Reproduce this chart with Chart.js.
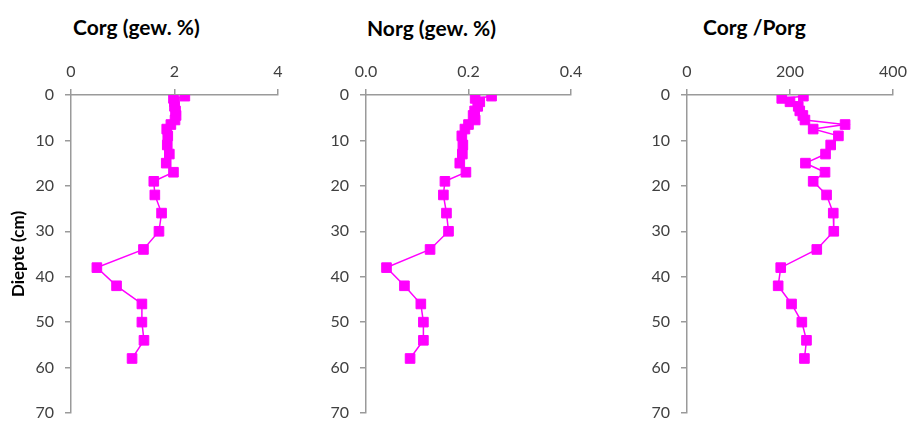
<!DOCTYPE html>
<html><head><meta charset="utf-8">
<script src="https://cdn.jsdelivr.net/npm/chart.js@4.4.1/dist/chart.umd.min.js"></script>
<style>
body{margin:0;background:#fff;width:911px;height:421px;overflow:hidden;position:relative;font-family:Lato,sans-serif}
.box{position:absolute;top:0;height:421px}
.t{position:absolute;font-weight:bold;font-size:21px;color:#000;white-space:nowrap;font-family:Lato,sans-serif;line-height:24px}
</style></head><body>
<div class="t" style="left:73px;top:15px">Corg (gew. %)</div>
<div class="t" style="left:367px;top:16px">Norg (gew. %)</div>
<div class="t" style="left:703px;top:15px">Corg /Porg</div>
<div class="box" style="left:0px;width:300px"><canvas id="c1"></canvas></div>
<div class="box" style="left:300px;width:300px"><canvas id="c2"></canvas></div>
<div class="box" style="left:610px;width:301px"><canvas id="c3"></canvas></div>
<script>
const depth    = [0.25, 0.75, 1.5, 2.5, 3.5, 4.5, 5.5, 6.5, 7.5, 9, 11, 13, 15, 17, 19, 22, 26, 30, 34, 38, 42, 46, 50, 54, 58];
const corg     = [2.20, 1.98, 2.00, 2.00, 2.02, 2.03, 2.01, 1.93, 1.85, 1.87, 1.86, 1.90, 1.84, 1.98, 1.60, 1.62, 1.75, 1.70, 1.40, 0.50, 0.88, 1.37, 1.37, 1.41, 1.18];
const norg     = [0.245, 0.213, 0.222, 0.218, 0.212, 0.209, 0.213, 0.200, 0.193, 0.187, 0.189, 0.188, 0.183, 0.195, 0.154, 0.151, 0.157, 0.161, 0.125, 0.040, 0.075, 0.107, 0.112, 0.112, 0.086];
const corgPorg = [226, 184, 200, 216, 219, 225, 229, 307, 245, 294, 279, 269, 230, 268, 245, 271, 284, 285, 252, 182, 177, 203, 223, 232, 228];
const depthTicks = [0, 10, 20, 30, 40, 50, 60, 70];
const corgTicks = ['0', '2', '4'];
const norgTicks = ['0.0', '0.2', '0.4'];
const ratioTicks = ['0', '200', '400'];
const yTitle = 'Diepte (cm)';

const AX = '#9a9a9a';
const TICKC = '#404040';
function makeChart(id, values, xTicks, leftW, padRight, showTitle) {
  const xmax = parseFloat(xTicks[xTicks.length - 1]);
  new Chart(document.getElementById(id), {
    type: 'scatter',
    data: {
      datasets: [{
        data: depth.map((d, i) => ({ x: values[i], y: d })),
        showLine: true,
        borderColor: '#FF00FF',
        backgroundColor: '#FF00FF',
        borderWidth: 1.5,
        pointStyle: 'rect',
        pointRadius: 6.8,
        pointBorderWidth: 1,
        pointBorderColor: '#FF00FF'
      }]
    },
    options: {
      responsive: true,
      maintainAspectRatio: false,
      animation: false,
      layout: { autoPadding: false, padding: { top: 60, right: padRight, bottom: 8, left: 0 } },
      plugins: { legend: { display: false }, tooltip: { enabled: false } },
      scales: {
        x: {
          type: 'linear', position: 'top', min: 0, max: xmax,
          afterBuildTicks: s => { s.ticks = xTicks.map(v => ({ value: parseFloat(v) })); },
          ticks: { padding: 8, color: TICKC, font: { family: 'Lato', size: 16 },
                   callback: (v, i) => xTicks[i] },
          grid: { drawOnChartArea: false, drawTicks: true, tickLength: 6, color: AX, lineWidth: 1.5 },
          border: { color: AX, width: 1.5 },
          afterFit: s => { s.height = 35; s.paddingLeft = 0; s.paddingRight = 0; }
        },
        y: {
          type: 'linear', reverse: true, min: 0, max: 70,
          afterBuildTicks: s => { s.ticks = depthTicks.map(v => ({ value: v })); },
          ticks: { padding: 11, color: TICKC, font: { family: 'Lato', size: 16 },
                   callback: (v, i) => String(depthTicks[i]) },
          grid: { drawOnChartArea: false, drawTicks: true, tickLength: 6, color: AX, lineWidth: 1.5 },
          border: { color: AX, width: 1.5 },
          title: { display: showTitle, text: yTitle, color: '#000',
                   font: { family: 'Lato', size: 17, weight: 'bold' }, padding: { top: 8, bottom: 0 } },
          afterFit: s => { s.width = leftW; s.paddingTop = 0; s.paddingBottom = 0; }
        }
      }
    }
  });
}
makeChart('c1', corg, corgTicks, 71, 22, true);
makeChart('c2', norg, norgTicks, 66, 29, false);
makeChart('c3', corgPorg, ratioTicks, 77, 18, false);
</script>
</body></html>
